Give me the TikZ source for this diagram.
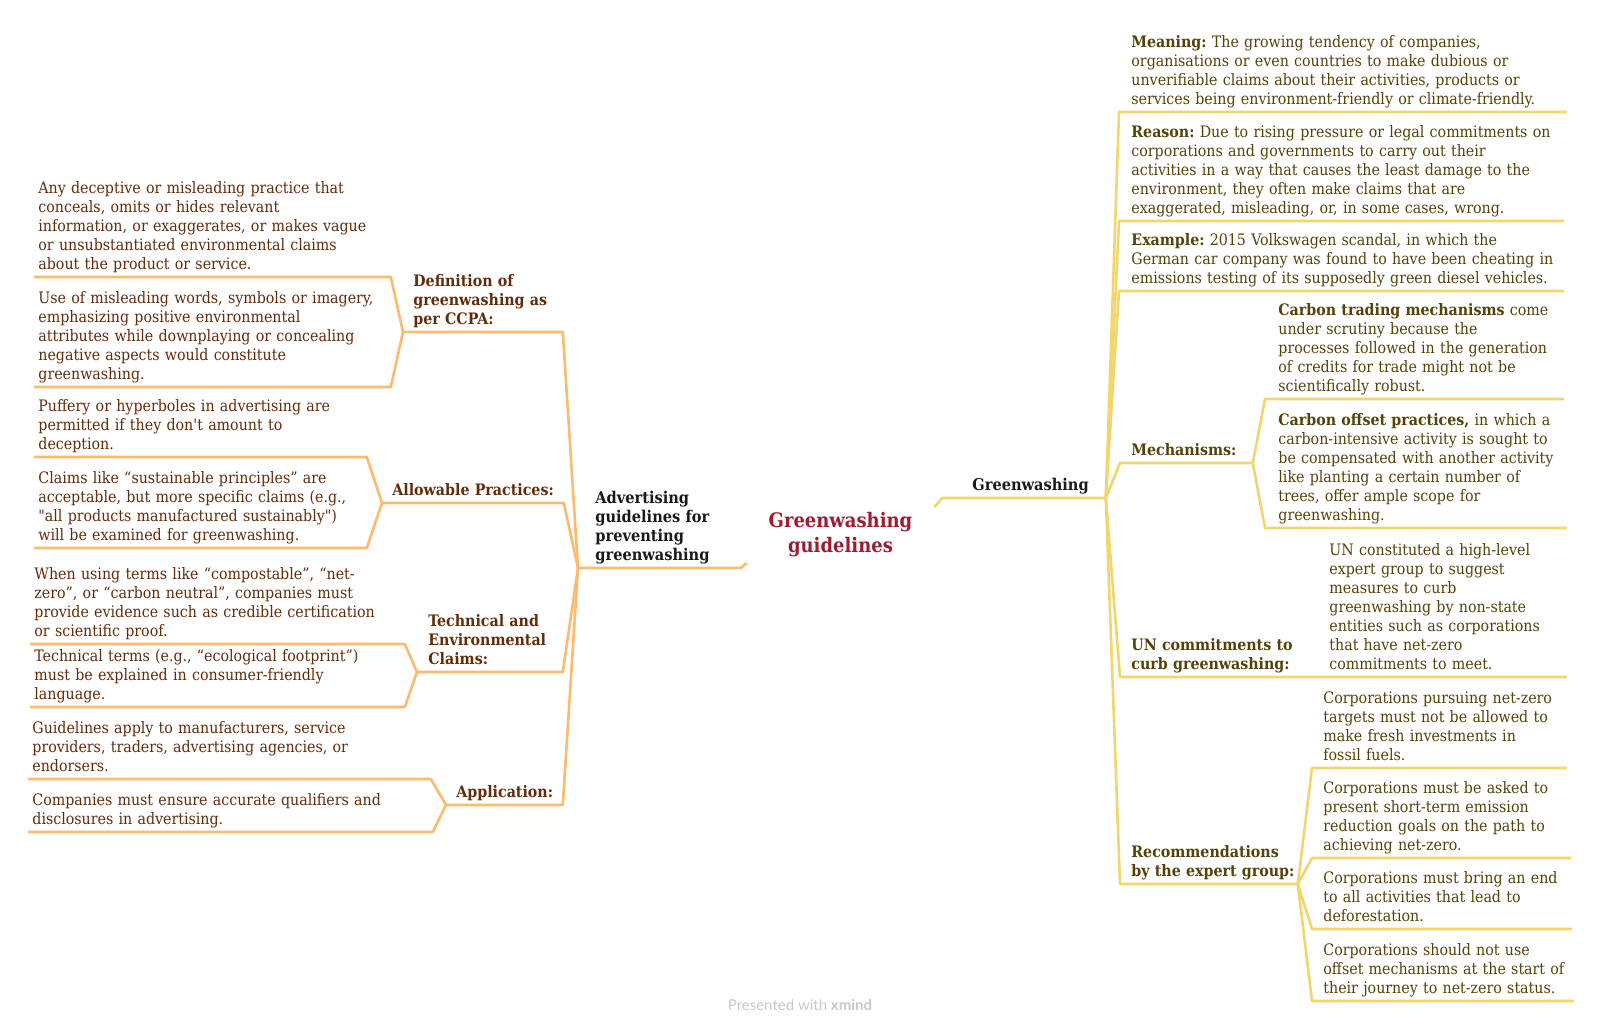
\documentclass[tikz,border=0pt]{standalone}
\usepackage{fontspec}
\setmainfont{DejaVu Serif Condensed}
\newfontfamily\sinmapa{DejaVu Serif Condensed}
\setsansfont{Lato}
\usepackage{tikz}
\definecolor{naranja}{RGB}{253,186,110}
\definecolor{amarillo}{RGB}{242,213,107}
\definecolor{marron}{RGB}{98,44,10}
\definecolor{oliva}{RGB}{84,66,8}
\definecolor{granate}{RGB}{158,27,50}
\definecolor{gris}{RGB}{200,200,200}
\newcommand{\cuerpo}{\fontsize{7.9}{9.5}\selectfont}
\frenchspacing

\begin{document}
\begin{tikzpicture}[
			x=0.5pt, y=-0.5pt,
			leaf/.style={
				anchor=south west,
				inner xsep=0pt,
				inner ysep=0.8pt,
				font=\cuerpo,
				execute at begin node={\leftskip=#1\rightskip=-40pt plus 1fil},
				execute at end node={\strut}
			},
			izq/.style={leaf=#1, text=marron},
			der/.style={leaf=#1, text=oliva},
			raiz/.style={leaf=#1, text=black!90, font=\fontsize{8.1}{9.5}\selectfont\bfseries},
			linizq/.style={draw=naranja, line width=1.3pt, line join=round},
			linder/.style={draw=amarillo, line width=1.3pt, line join=round}
			]
			\useasboundingbox (0,0) rectangle (1600,1030);
			
			\node[align=center, inner sep=0pt, minimum width=93.5pt, minimum height=27.5pt,
			      text=granate, font=\fontsize{10}{12.5}\selectfont\bfseries] (title) at (840.5,535)
			{Greenwashing\\guidelines};
			
			% left branch
			\node[raiz=8.5pt, text width=81pt] (advert) at (578,568)
			{Advertising\\guidelines for\\preventing\\greenwashing};
			
			\node[izq=5pt, text width=79.5pt, font=\cuerpo\bfseries] (defin) at (403,332)
			{Definition of\\greenwashing as\\per CCPA:};
			\node[izq=2pt, text width=178pt] (def1) at (34,277)
			{Any deceptive or misleading practice that\\conceals, omits or hides relevant\\information, or exaggerates, or makes vague\\or unsubstantiated environmental claims\\about the product or service.};
			\node[izq=2pt, text width=178pt] (def2) at (34,387)
			{Use of misleading words, symbols or imagery,\\emphasizing positive environmental\\attributes while downplaying or concealing\\negative aspects would constitute\\greenwashing.};
			
			\node[izq=5pt, text width=90.5pt, font=\cuerpo\bfseries] (allow) at (382,503)
			{Allowable Practices:};
			\node[izq=2pt, text width=166pt] (all1) at (34,457)
			{Puffery or hyperboles in advertising are\\permitted if they don{\sinmapa'}t amount to\\deception.};
			\node[izq=2pt, text width=166pt] (all2) at (34,548)
			{Claims like “sustainable principles” are\\acceptable, but more specific claims (e.g.,\\{\sinmapa"}all products manufactured sustainably{\sinmapa"})\\will be examined for greenwashing.};
			
			\node[izq=5.5pt, text width=72.5pt, font=\cuerpo\bfseries] (techn) at (417,672)
			{Technical and\\Environmental\\Claims:};
			\node[izq=2pt, text width=187pt] (tec1) at (30,644)
			{When using terms like “compostable”, “net-\\zero”, or “carbon neutral”, companies must\\provide evidence such as credible certification\\or scientific proof.};
			\node[izq=2pt, text width=187pt] (tec2) at (30,707)
			{Technical terms (e.g., “ecological footprint”)\\must be explained in consumer-friendly\\language.};
			
			\node[izq=5pt, text width=58pt, font=\cuerpo\bfseries] (applic) at (446,805)
			{Application:};
			\node[izq=2pt, text width=201pt] (app1) at (28,779)
			{Guidelines apply to manufacturers, service\\providers, traders, advertising agencies, or\\endorsers.};
			\node[izq=2pt, text width=202pt] (app2) at (28,832)
			{Companies must ensure accurate qualifiers and\\disclosures in advertising.};
			
			\draw[linizq] (def1.south west) -- (def1.south east) -- (defin.south west);
			\draw[linizq] (def2.south west) -- (def2.south east) -- (defin.south west) -- (defin.south east) -- (advert.south west);
			\draw[linizq] (all1.south west) -- (all1.south east) -- (allow.south west);
			\draw[linizq] (all2.south west) -- (all2.south east) -- (allow.south west) -- (allow.south east) -- (advert.south west);
			\draw[linizq] (tec1.south west) -- (tec1.south east) -- (techn.south west);
			\draw[linizq] (tec2.south west) -- (tec2.south east) -- (techn.south west) -- (techn.south east) -- (advert.south west);
			\draw[linizq] (app1.south west) -- (app1.south east) -- (applic.south west);
			\draw[linizq] (app2.south west) -- (app2.south east) -- (applic.south west) -- (applic.south east) -- (advert.south west);
			\draw[linizq] (advert.south west) -- (advert.south east) -- (title.south west);
			
			% right branch
			\node[raiz=15pt, text width=81.5pt] (green) at (942,498) {Greenwashing};
			
			\node[der=6pt, text width=223.5pt] (mean) at (1119,112)
			{\textbf{Meaning:} The growing tendency of companies,\\organisations or even countries to make dubious or\\unverifiable claims about their activities, products or\\services being environment-friendly or climate-friendly.};
			\node[der=6pt, text width=222pt] (reas) at (1119,221)
			{\textbf{Reason:} Due to rising pressure or legal commitments on\\corporations and governments to carry out their\\activities in a way that causes the least damage to the\\environment, they often make claims that are\\exaggerated, misleading, or, in some cases, wrong.};
			\node[der=6pt, text width=222pt] (exam) at (1119,291)
			{\textbf{Example:} 2015 Volkswagen scandal, in which the\\German car company was found to have been cheating in\\emissions testing of its supposedly green diesel vehicles.};
			
			\node[der=5.5pt, text width=66pt, font=\cuerpo\bfseries] (mech) at (1120,463) {Mechanisms:};
			\node[der=6.5pt, text width=149pt] (trad) at (1265,399)
			{\textbf{Carbon trading mechanisms} come\\under scrutiny because the\\processes followed in the generation\\of credits for trade might not be\\scientifically robust.};
			\node[der=6.5pt, text width=150.5pt] (offs) at (1265,528)
			{\textbf{Carbon offset practices,} in which a\\carbon-intensive activity is sought to\\be compensated with another activity\\like planting a certain number of\\trees, offer ample scope for\\greenwashing.};
			
			\node[der=5.5pt, text width=98pt, font=\cuerpo\bfseries] (uncom) at (1120,677)
			{UN commitments to\\curb greenwashing:};
			\node[der=6.5pt, text width=125pt] (unexp) at (1316,677)
			{UN constituted a high-level\\expert group to suggest\\measures to curb\\greenwashing by non-state\\entities such as corporations\\that have net-zero\\commitments to meet.};
			
			\node[der=5.5pt, text width=88.5pt, font=\cuerpo\bfseries] (recom) at (1120,884)
			{Recommendations\\by the expert group:};
			\node[der=5.5pt, text width=127pt] (rec1) at (1312,768)
			{Corporations pursuing net-zero\\targets must not be allowed to\\make fresh investments in\\fossil fuels.};
			\node[der=5.5pt, text width=129pt] (rec2) at (1312,858)
			{Corporations must be asked to\\present short-term emission\\reduction goals on the path to\\achieving net-zero.};
			\node[der=5.5pt, text width=129.5pt] (rec3) at (1312,929)
			{Corporations must bring an end\\to all activities that lead to\\deforestation.};
			\node[der=5.5pt, text width=130.5pt] (rec4) at (1312,1001)
			{Corporations should not use\\offset mechanisms at the start of\\their journey to net-zero status.};
			
			\draw[linder] (title.north east) -- (green.south west) -- (green.south east);
			\draw[linder] (mean.south east) -- (mean.south west) -- (green.south east);
			\draw[linder] (reas.south east) -- (reas.south west) -- (green.south east);
			\draw[linder] (exam.south east) -- (exam.south west) -- (green.south east);
			\draw[linder] (trad.south east) -- (trad.south west) -- (mech.south east);
			\draw[linder] (offs.south east) -- (offs.south west) -- (mech.south east) -- (mech.south west) -- (green.south east);
			\draw[linder] (unexp.south east) -- (unexp.south west) -- (uncom.south east) -- (uncom.south west) -- (green.south east);
			\draw[linder] (rec1.south east) -- (rec1.south west) -- (recom.south east);
			\draw[linder] (rec2.south east) -- (rec2.south west) -- (recom.south east);
			\draw[linder] (rec3.south east) -- (rec3.south west) -- (recom.south east);
			\draw[linder] (rec4.south east) -- (rec4.south west) -- (recom.south east) -- (recom.south west) -- (green.south east);
			
			\node[text=gris, font=\sffamily\fontsize{7.5}{8}\selectfont] (footer) at (800,1005)
			{Presented with \textbf{xmind}};
			
		\end{tikzpicture}
\end{document}
